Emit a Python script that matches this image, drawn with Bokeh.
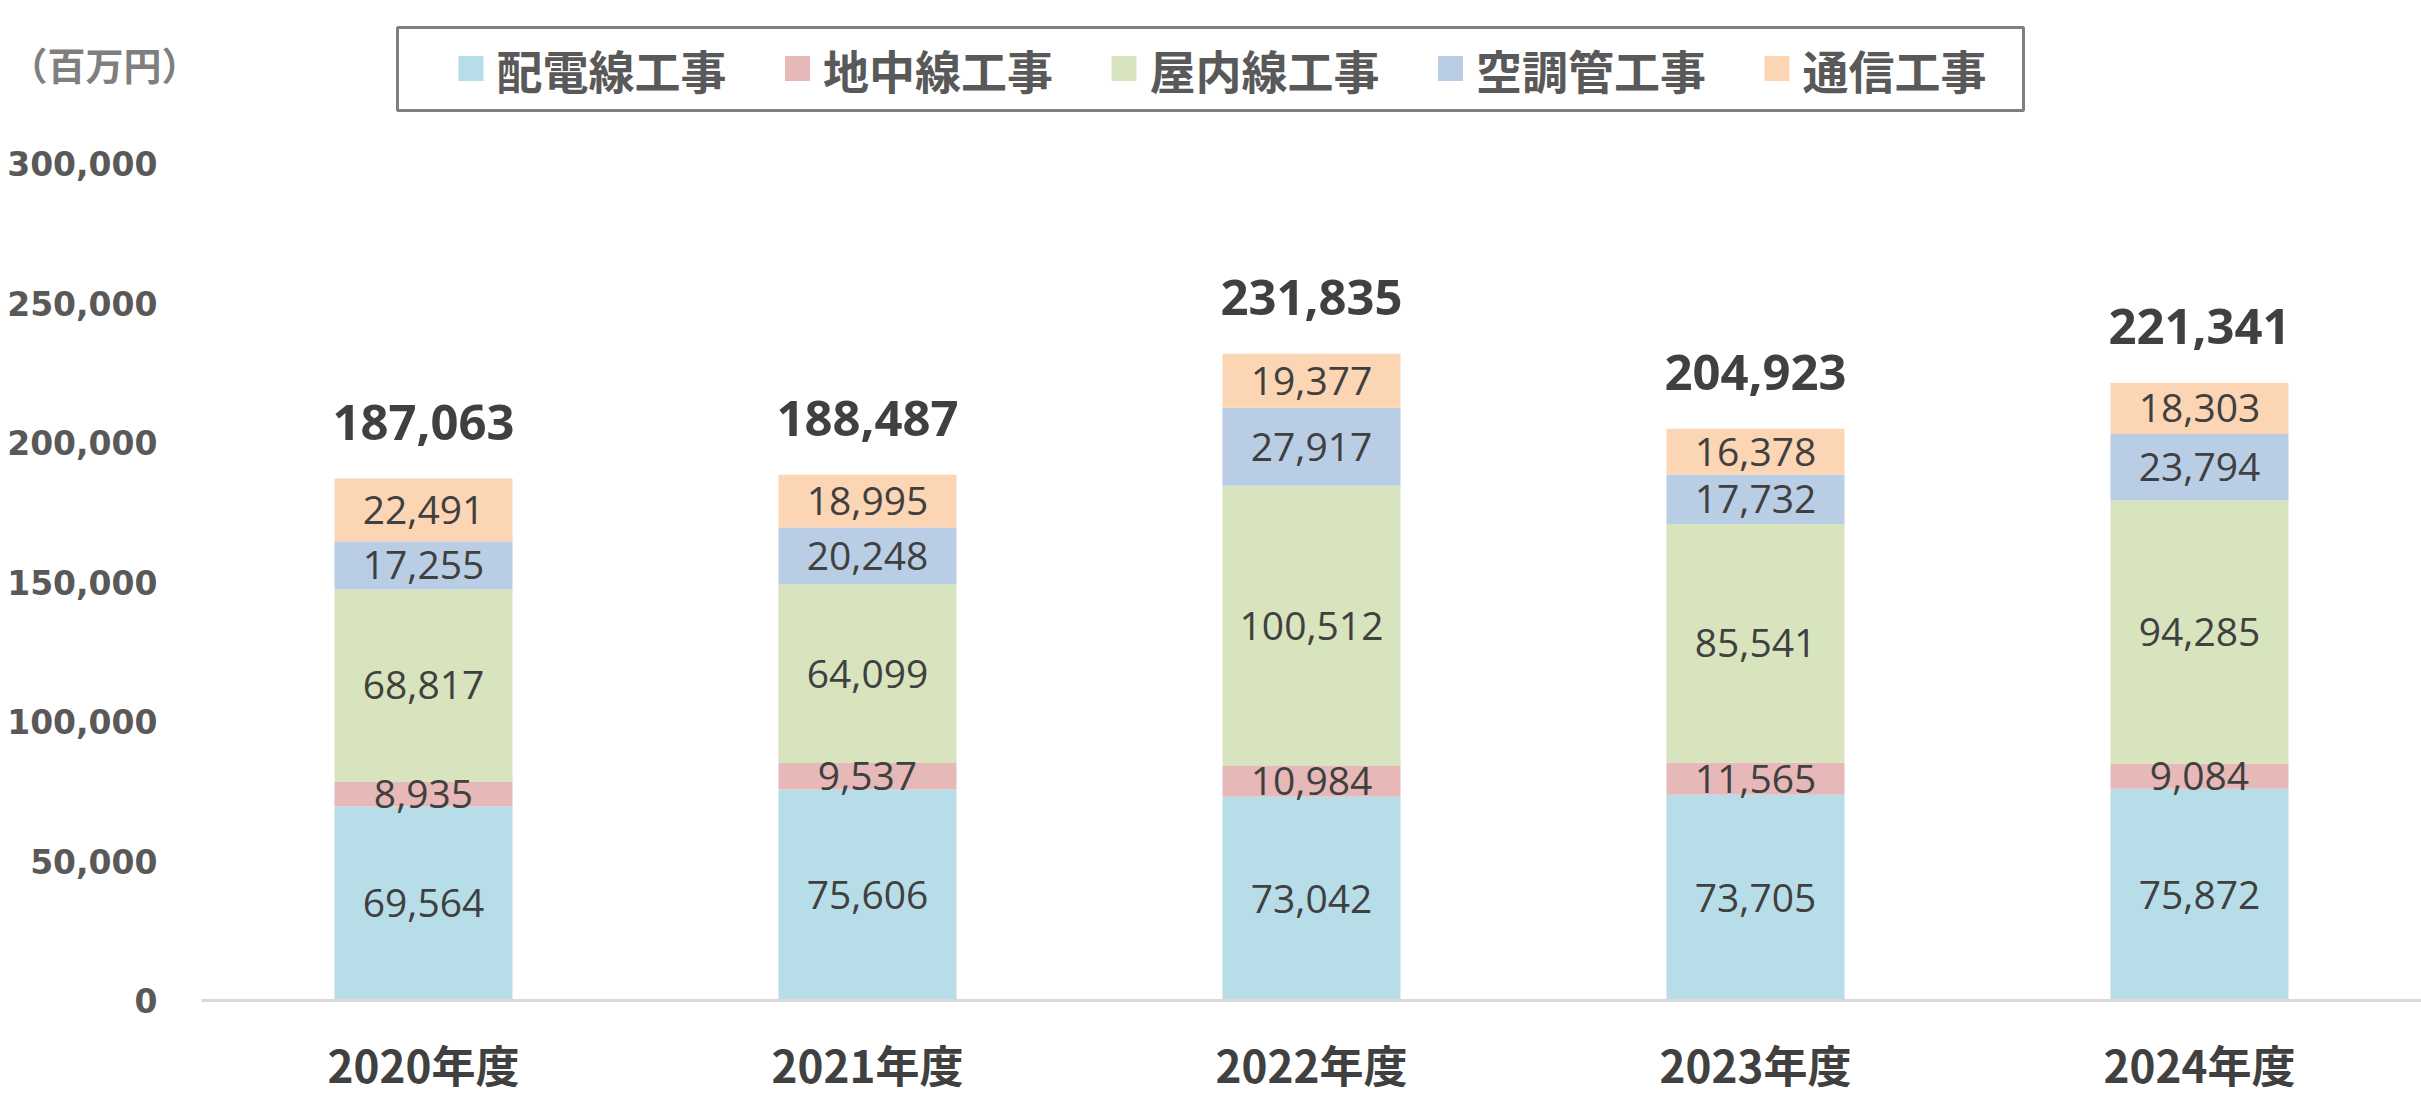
from bokeh.plotting import figure
from bokeh.layouts import column
from bokeh.models import Range1d, FactorRange, FixedTicker, ColumnDataSource, NumeralTickFormatter
from bokeh.core.properties import value
from bokeh.embed import file_html
from bokeh.resources import INLINE

# ---------------- data ----------------
categories = ["2020年度", "2021年度", "2022年度", "2023年度", "2024年度"]
series_names = ["配電線工事", "地中線工事", "屋内線工事", "空調管工事", "通信工事"]
haidensen = [69564, 75606, 73042, 73705, 75872]
chichusen = [8935, 9537, 10984, 11565, 9084]
okunaisen = [68817, 64099, 100512, 85541, 94285]
kuchokan = [17255, 20248, 27917, 17732, 23794]
tsushin = [22491, 18995, 19377, 16378, 18303]
totals = [187063, 188487, 231835, 204923, 221341]
y_ticks = [0, 50000, 100000, 150000, 200000, 250000, 300000]
unit_label = "（百万円）"

series_values = [haidensen, chichusen, okunaisen, kuchokan, tsushin]
colors = ["#B7DEE8", "#E6B9B8", "#D7E4BD", "#B9CDE5", "#FCD5B5"]

# ---------------- layout (pixels) ----------------
W, H = 2421, 1113
TOP_H = 126                              # header band (unit label + legend)
FL, FR = 201, 2421                       # chart frame left / right
FB = 1000                                # x-axis baseline (page y)
Y_MAX_TICK_PX = 163                      # page y of the 300,000 tick
units_per_px = 300000 / (FB - Y_MAX_TICK_PX)
y_top = (FB - TOP_H) * units_per_px

# ---------------- header: unit label (as axis label) + legend ----------------
UNIT_Y = 63
hdr = figure(width=W, height=TOP_H, x_range=Range1d(FL, W), y_range=Range1d(TOP_H, 0),
             x_axis_location=None, y_axis_location="left",
             output_backend="svg", toolbar_location=None,
             min_border_left=FL, min_border_right=0,
             min_border_top=0, min_border_bottom=0)
hdr.grid.visible = False
hdr.outline_line_color = None
hdr.background_fill_color = "white"
hdr.border_fill_color = "white"
hax = hdr.yaxis[0]
hax.ticker = FixedTicker(ticks=[UNIT_Y])
hax.major_label_overrides = {UNIT_Y: unit_label}
hax.axis_line_color = None
hax.major_tick_line_color = None
hax.minor_tick_line_color = None
hax.major_tick_out = 0
hax.major_label_standoff = 2
hax.major_label_text_font = "Noto Sans CJK JP"
hax.major_label_text_font_style = "bold"
hax.major_label_text_font_size = "38px"
hax.major_label_text_color = "#7F7F7F"

leg_left, leg_right, leg_top, leg_bottom = 397, 2023, 27, 110
hdr.quad(left=[leg_left], right=[leg_right], top=[leg_top], bottom=[leg_bottom],
         fill_color=None, line_color="#7F7F7F", line_width=3)
sq_left0, pitch, sq = 458, 326.5, 25
leg_cy = 68
n = len(series_names)
hdr.rect(x=[sq_left0 + k * pitch + sq / 2 for k in range(n)], y=[leg_cy] * n,
         width=sq, height=sq, fill_color=colors, line_color=None)
hdr.text(x=[sq_left0 + k * pitch + sq + 13 for k in range(n)], y=[leg_cy] * n,
         text=series_names, text_align="left", text_baseline="middle",
         text_font=value("Noto Sans CJK JP"), text_font_style="bold",
         text_font_size="46px", text_color="#595959")

# ---------------- main chart ----------------
p = figure(width=W, height=H - TOP_H,
           x_range=FactorRange(*categories, range_padding=0),
           y_range=Range1d(0, y_top),
           output_backend="svg", toolbar_location=None,
           min_border_left=FL, min_border_right=W - FR,
           min_border_top=0, min_border_bottom=H - FB)
p.outline_line_color = None
p.background_fill_color = "white"
p.border_fill_color = "white"
p.xgrid.grid_line_color = None
p.ygrid.grid_line_color = None

data = {"cat": categories}
for name, vals in zip(series_names, series_values):
    data[name] = vals
src = ColumnDataSource(data)
p.vbar_stack(series_names, x="cat", width=0.401, fill_color=colors,
             line_color=None, source=src)

# segment labels
lx, ly, lt = [], [], []
for i, cat in enumerate(categories):
    bottom = 0
    for vals in series_values:
        v = vals[i]
        lx.append(cat)
        ly.append(bottom + v / 2)
        lt.append(f"{v:,}")
        bottom += v
p.text(x=lx, y=ly, text=lt, text_align="center", text_baseline="middle",
       text_font=value("Open Sans"), text_font_size="39px", text_color="#404040")

# total labels
p.text(x=categories, y=totals, text=[f"{t:,}" for t in totals],
       text_align="center", text_baseline="middle", y_offset=-56,
       text_font=value("Open Sans"), text_font_style="bold",
       text_font_size="49px", text_color="#404040")

yax = p.yaxis[0]
yax.ticker = FixedTicker(ticks=y_ticks)
yax.formatter = NumeralTickFormatter(format="0,0")
yax.axis_line_color = None
yax.major_tick_line_color = None
yax.minor_tick_line_color = None
yax.major_label_standoff = 38
yax.major_label_text_font = "DejaVu Sans"
yax.major_label_text_font_style = "bold"
yax.major_label_text_font_size = "33px"
yax.major_label_text_color = "#595959"

xax = p.xaxis[0]
xax.axis_line_color = "#D9D9D9"
xax.axis_line_width = 3
xax.major_tick_line_color = None
xax.minor_tick_line_color = None
xax.major_label_standoff = 25
xax.major_label_text_font = "Noto Sans CJK JP"
xax.major_label_text_font_style = "bold"
xax.major_label_text_font_size = "44px"
xax.major_label_text_color = "#404040"

layout = column(hdr, p, spacing=0)
open("out.html", "w").write(file_html(layout, INLINE))
